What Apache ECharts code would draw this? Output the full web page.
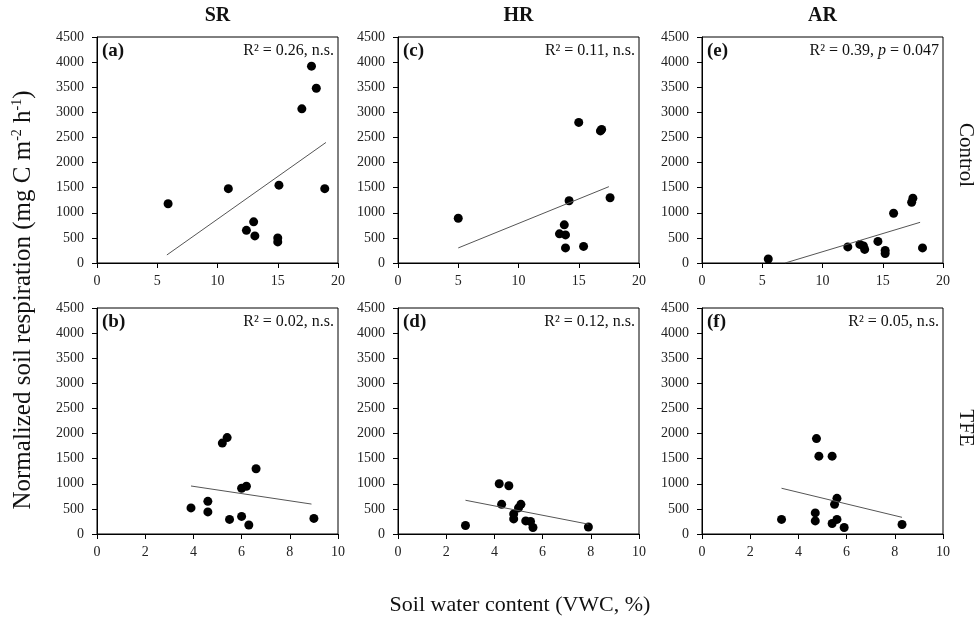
<!DOCTYPE html>
<html>
<head>
<meta charset="utf-8">
<script src="https://cdn.jsdelivr.net/npm/echarts@6/dist/echarts.min.js"></script>
<style>
  html, body { margin: 0; padding: 0; background: #fff; }
  #chart { width: 979px; height: 619px; }
</style>
</head>
<body>
<div id="chart"></div>
<script>
// points: [VWC %, respiration]
const srControl = [[5.9, 1180], [10.9, 1480], [12.4, 650], [13.0, 820], [13.1, 540], [15.0, 500],
  [15.0, 420], [15.1, 1550], [17.0, 3070], [17.8, 3920], [18.2, 3480], [18.9, 1480]]
const hrControl = [[5.0, 890], [13.4, 580], [13.8, 760], [13.9, 560], [13.9, 300], [14.2, 1240],
  [15.0, 2800], [15.4, 330], [16.8, 2630], [16.9, 2660], [17.6, 1300]]
const arControl = [[5.5, 80], [12.1, 320], [13.1, 370], [13.4, 340], [13.5, 270], [14.6, 430],
  [15.2, 250], [15.2, 190], [15.9, 990], [17.4, 1210], [17.5, 1290], [18.3, 300]]
const srTfe = [[3.9, 520], [4.6, 650], [4.6, 440], [5.2, 1810], [5.4, 1920], [5.5, 290],
  [6.0, 910], [6.2, 950], [6.0, 350], [6.3, 180], [6.6, 1300], [9.0, 310]]
const hrTfe = [[2.8, 170], [4.2, 1000], [4.3, 590], [4.6, 960], [4.8, 400], [4.8, 300],
  [5.0, 520], [5.1, 590], [5.3, 260], [5.5, 250], [5.6, 130], [7.9, 140]]
const arTfe = [[3.3, 290], [4.7, 420], [4.7, 260], [4.75, 1900], [4.85, 1550], [5.4, 1550],
  [5.4, 210], [5.5, 590], [5.6, 710], [5.6, 290], [5.9, 130], [8.3, 190]]

// regression line ends
const srControlFit = [[5.8, 160], [19.0, 2400]]
const hrControlFit = [[5.0, 300], [17.5, 1520]]
const arControlFit = [[6.9, 0], [18.1, 810]]
const srTfeFit = [[3.9, 956], [8.9, 596]]
const hrTfeFit = [[2.8, 672], [7.9, 196]]
const arTfeFit = [[3.3, 911], [8.3, 332]]

const colTitles = ['SR', 'HR', 'AR']
const rowTitles = ['Control', 'TFE']
const panelTags = [['(a)', '(c)', '(e)'], ['(b)', '(d)', '(f)']]
const statTexts = [
  ['R² = 0.26, n.s.', 'R² = 0.11, n.s.', 'R² = 0.39, {it|p} = 0.047'],
  ['R² = 0.02, n.s.', 'R² = 0.12, n.s.', 'R² = 0.05, n.s.'],
]
const xMax = [20, 10]
const xStep = [5, 2]
const yMax = 4500
const yStep = 500

const points = [[srControl, hrControl, arControl], [srTfe, hrTfe, arTfe]]
const fits = [[srControlFit, hrControlFit, arControlFit], [srTfeFit, hrTfeFit, arTfeFit]]

const font = 'Liberation Serif'
const colLeft = [97, 398, 702]
const rowTop = [37, 308]
const plotW = 241
const plotH = 226

const grids = [], xAxes = [], yAxes = [], series = [], graphics = []

rowTitles.forEach((rowName, r) => {
  colTitles.forEach((colName, c) => {
    const i = grids.length
    const left = colLeft[c], top = rowTop[r]
    grids.push({ left, top, width: plotW, height: plotH, show: true, borderColor: '#000', borderWidth: 1 })
    const axisCommon = {
      type: 'value',
      gridIndex: i,
      min: 0,
      axisLine: { show: true, onZero: false, lineStyle: { color: '#000', width: 1 } },
      axisTick: { show: true, inside: false, length: 5, lineStyle: { color: '#000' } },
      splitLine: { show: false },
      axisLabel: { color: '#222', fontFamily: font, fontSize: 14, formatter: v => String(v) },
    }
    xAxes.push({ ...axisCommon, max: xMax[r], interval: xStep[r], axisLabel: { ...axisCommon.axisLabel, margin: 11 } })
    yAxes.push({ ...axisCommon, max: yMax, interval: yStep, axisLabel: { ...axisCommon.axisLabel, margin: 13 } })
    series.push({
      type: 'scatter', xAxisIndex: i, yAxisIndex: i,
      data: points[r][c], symbolSize: 9,
      itemStyle: { color: '#000', opacity: 1 },
    })
    series.push({
      type: 'line', xAxisIndex: i, yAxisIndex: i,
      data: fits[r][c], symbol: 'none',
      lineStyle: { color: '#555', width: 1 },
    })
    graphics.push({
      type: 'text', left: left + 5, top: top + 5,
      style: { text: panelTags[r][c], font: `bold 19px "${font}"`, fill: '#111' },
    })
    graphics.push({
      type: 'text', right: 979 - (left + plotW) + 4, top: top + 6,
      style: {
        text: statTexts[r][c], font: `16px "${font}"`, fill: '#111',
        rich: { it: { fontStyle: 'italic', fontSize: 16, fontFamily: font } },
      },
    })
    if (r === 0) {
      graphics.push({
        type: 'text', x: left + plotW / 2, y: 16,
        style: { text: colName, font: `bold 20px "${font}"`, fill: '#111', textAlign: 'center', textVerticalAlign: 'middle' },
      })
    }
  })
  graphics.push({
    type: 'text', x: 966, y: r === 0 ? 155 : 428, rotation: -Math.PI / 2,
    style: { text: rowName, font: `21px "${font}"`, fill: '#111', textAlign: 'center', textVerticalAlign: 'middle' },
  })
})

graphics.push({
  type: 'text', x: 23, y: 300, rotation: Math.PI / 2,
  style: {
    text: 'Normalized soil respiration (mg C m{sup|-2} h{sup|-1})',
    font: `25px "${font}"`, fill: '#111', textAlign: 'center', textVerticalAlign: 'middle',
    rich: { sup: { fontSize: 14, fontFamily: font, verticalAlign: 'top', lineHeight: 14 } },
  },
})
graphics.push({
  type: 'text', x: 520, y: 605,
  style: { text: 'Soil water content (VWC, %)', font: `22px "${font}"`, fill: '#111', textAlign: 'center', textVerticalAlign: 'middle' },
})

const chart = echarts.init(document.getElementById('chart'))
chart.setOption({
  animation: false,
  grid: grids,
  xAxis: xAxes,
  yAxis: yAxes,
  series,
  graphic: graphics,
})
</script>
</body>
</html>
